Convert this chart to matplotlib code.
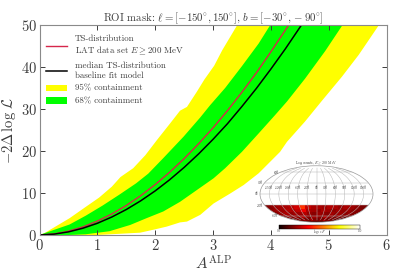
import matplotlib

matplotlib.use("Agg")
import matplotlib.pyplot as plt
import numpy as np

plt.rcParams["font.family"] = "cmr10"
plt.rcParams["mathtext.fontset"] = "cm"
plt.rcParams["axes.formatter.use_mathtext"] = True

TEXT_COLOR = "#3c3c3c"
SPINE_COLOR = "#8a8a8a"
YELLOW = "#ffff00"
GREEN = "#00ff00"
RED = "#d6274b"

upper95_x = [0.0, 0.08, 0.52, 0.80, 1.03, 1.25, 1.40, 1.62, 1.83, 2.03, 2.26, 2.43, 2.55, 2.72, 2.85, 3.02, 3.16, 3.42]
upper95_y = [0.0, 0.4, 4.0, 6.7, 8.9, 11.5, 13.8, 15.9, 19.0, 22.6, 26.6, 29.6, 30.5, 34.1, 37.0, 40.3, 44.0, 50.0]
lower95_x = [1.0, 1.74, 2.0, 2.2, 2.43, 2.55, 2.78, 3.01, 3.30, 3.53, 3.79, 4.16, 4.28, 4.59, 4.88, 5.23, 5.52, 5.87]
lower95_y = [0.0, 0.55, 1.35, 2.0, 3.0, 3.2, 4.8, 7.5, 9.9, 11.9, 14.7, 19.8, 22.2, 27.0, 31.9, 37.7, 42.9, 50.0]
upper68_x = [0.0, 0.08, 0.52, 0.80, 1.09, 1.38, 1.67, 1.88, 2.14, 2.49, 2.78, 2.95, 3.21, 3.50, 3.79, 3.99]
upper68_y = [0.0, 0.4, 2.5, 4.6, 7.0, 9.6, 12.3, 14.6, 18.3, 23.4, 28.0, 30.9, 35.0, 40.2, 45.6, 50.0]
lower68_x = [0.5, 0.8, 1.21, 1.57, 1.85, 2.14, 2.43, 2.72, 3.01, 3.21, 3.50, 3.79, 4.07, 4.28, 4.59, 4.94, 5.24]
lower68_y = [0.0, 0.17, 0.9, 2.4, 4.0, 5.6, 7.9, 10.7, 13.5, 15.9, 19.8, 24.2, 28.5, 31.8, 37.2, 43.8, 50.0]

data_x = [0.0, 0.25, 0.5, 0.75, 1.0, 1.25, 1.5, 1.75, 2.0, 2.25, 2.5, 2.75, 3.0, 3.25, 3.5, 3.75, 4.0, 4.31]
data_y = [0.0, 0.25, 0.91, 1.93, 3.31, 5.01, 7.03, 9.36, 12.0, 14.94, 18.17, 21.7, 25.5, 29.6, 34.0, 38.6, 43.6, 50.0]
median_x = [0.0, 0.25, 0.5, 0.75, 1.0, 1.25, 1.5, 1.75, 2.0, 2.25, 2.5, 2.75, 3.0, 3.25, 3.5, 3.75, 4.0, 4.25, 4.53]
median_y = [0.0, 0.2, 0.74, 1.61, 2.79, 4.28, 6.06, 8.14, 10.5, 13.15, 16.08, 19.29, 22.77, 26.5, 30.6, 34.9, 39.5, 44.3, 50.0]

x_ticks = [0, 1, 2, 3, 4, 5, 6]
y_ticks = [0, 10, 20, 30, 40, 50]

# inset sky map, rows run from b=-90 up to b=-30
map_lon = [-180, -160, -140, -120, -100, -80, -60, -40, -20, 0, 20, 40, 60, 80, 100, 120, 140, 160, 180]
map_lat = [-90, -80, -70, -60, -50, -40, -30]
map_values = [
    [0.12, 0.12, 0.12, 0.12, 0.12, 0.12, 0.12, 0.12, 0.12, 0.12, 0.12, 0.12, 0.12, 0.12, 0.12, 0.12, 0.12, 0.12],
    [0.16, 0.15, 0.18, 0.16, 0.20, 0.17, 0.16, 0.22, 0.18, 0.16, 0.19, 0.17, 0.24, 0.16, 0.18, 0.16, 0.15, 0.14],
    [0.17, 0.20, 0.18, 0.23, 0.19, 0.26, 0.20, 0.18, 0.23, 0.20, 0.18, 0.25, 0.19, 0.21, 0.18, 0.20, 0.17, 0.16],
    [0.19, 0.22, 0.24, 0.21, 0.23, 0.22, 0.25, 0.21, 0.19, 0.22, 0.21, 0.19, 0.23, 0.20, 0.22, 0.19, 0.21, 0.18],
    [0.20, 0.22, 0.22, 0.25, 0.24, 0.27, 0.34, 0.24, 0.23, 0.20, 0.24, 0.22, 0.20, 0.23, 0.21, 0.22, 0.19, 0.18],
    [0.18, 0.21, 0.23, 0.24, 0.26, 0.30, 0.44, 0.28, 0.24, 0.24, 0.22, 0.25, 0.24, 0.21, 0.24, 0.22, 0.20, 0.17],
]
map_grid_lat = [-60, -30, 0, 30, 60]


def draw_sky_map(fig):
    ax = fig.add_axes([260 / 407, 1 - 223 / 275, 113 / 407, 58 / 275], projection="mollweide")
    lon = np.radians(map_lon)
    lat = np.radians(map_lat)
    mesh = ax.pcolormesh(lon, lat, np.array(map_values), cmap="hot", vmin=0, vmax=1, rasterized=True)
    ax.set_xticks(np.radians([-150, -120, -90, -60, -30, 0, 30, 60, 90, 120, 150]))
    ax.set_yticks(np.radians(map_grid_lat))
    ax.set_yticklabels([])
    ax.grid(True, color="#b5b5b5", linewidth=0.35)
    ax.tick_params(labelsize=2.4, colors=TEXT_COLOR, pad=0.5)
    for b in map_grid_lat:
        # the projection keeps its own labels too far out, so set them by hand
        ax.annotate(f"{b}°", xy=(-np.pi, np.radians(b)), xytext=(-1, 0), textcoords="offset points",
                    ha="right", va="center", fontsize=2.4, color=TEXT_COLOR, annotation_clip=False)
    for spine in ax.spines.values():
        spine.set_edgecolor("#9a9a9a")
        spine.set_linewidth(0.5)
    fig.text(316.5 / 407, 1 - 163 / 275, "Log-counts, $E \\geq 200$ MeV", ha="center", va="center", fontsize=2.6, color=TEXT_COLOR)

    cax = fig.add_axes([279 / 407, 1 - 229 / 275, 81 / 407, 4 / 275])
    bar = fig.colorbar(mesh, cax=cax, orientation="horizontal")
    bar.set_ticks([])
    bar.outline.set_linewidth(0.3)
    fig.text(279 / 407, 1 - 231 / 275, "0.0", ha="center", va="center", fontsize=2.4, color=TEXT_COLOR)
    fig.text(360 / 407, 1 - 231 / 275, "1.0", ha="center", va="center", fontsize=2.4, color=TEXT_COLOR)
    fig.text(319 / 407, 1 - 231 / 275, "$\\log_{10} F$", ha="center", va="center", fontsize=2.6, color=TEXT_COLOR)


fig = plt.figure(figsize=(4.07, 2.75), dpi=100, facecolor="white")
ax = fig.add_axes([39.5 / 407, 1 - 235 / 275, 347 / 407, 210 / 275])

ax.fill(upper95_x + lower95_x[::-1], upper95_y + lower95_y[::-1], color=YELLOW, linewidth=0, label="95% containment")
ax.fill(upper68_x + lower68_x[::-1], upper68_y + lower68_y[::-1], color=GREEN, linewidth=0, label="68% containment")
ax.plot(data_x, data_y, color=RED, linewidth=1.0, label="TS-distribution\nLAT data set $E \\geq 200$ MeV")
ax.plot(median_x, median_y, color="black", linewidth=1.1, label="median TS-distribution\nbaseline fit model")

ax.set_xlim(0, 6)
ax.set_ylim(0, 50)
ax.set_xticks(x_ticks)
ax.set_yticks(y_ticks)
ax.tick_params(direction="in", top=True, right=True, length=3.5, width=0.7, labelsize=10.5, colors=TEXT_COLOR, pad=2)
for spine in ax.spines.values():
    spine.set_edgecolor(SPINE_COLOR)
    spine.set_linewidth(0.8)

ax.set_xlabel("$A^{\\mathrm{ALP}}$", fontsize=11, color=TEXT_COLOR, labelpad=1)
ax.set_ylabel("$-2\\Delta\\,\\log\\,\\mathcal{L}$", fontsize=10.5, color=TEXT_COLOR)
ax.yaxis.set_label_coords((18 - 39.5) / 347, 0.5)
ax.set_title("ROI mask: $\\ell = [-150^{\\circ}, 150^{\\circ}]$, $b = [-30^{\\circ}, -90^{\\circ}]$", fontsize=7.8, color=TEXT_COLOR, pad=3)

handles, labels = ax.get_legend_handles_labels()
order = [2, 3, 0, 1]
ax.legend(
    [handles[i] for i in order],
    [labels[i] for i in order],
    loc="upper left",
    bbox_to_anchor=(0.0, 0.985),
    frameon=False,
    fontsize=6.4,
    labelcolor=TEXT_COLOR,
    handlelength=2.3,
    labelspacing=0.5,
    handletextpad=0.9,
    borderaxespad=0.35,
)

draw_sky_map(fig)
fig.savefig("out.png", dpi=100, facecolor="white")
plt.close(fig)
